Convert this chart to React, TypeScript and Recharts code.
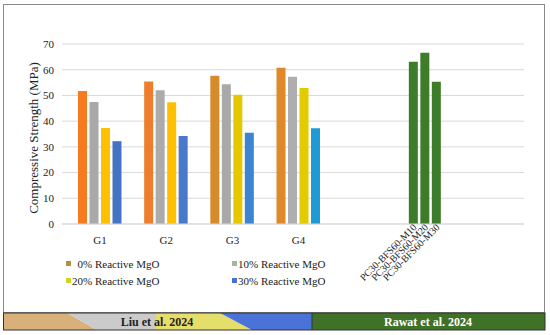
import { BarChart, Bar, XAxis, YAxis, CartesianGrid, Cell, LabelList } from "recharts"

const groups = ["G1", "G2", "G3", "G4"]
const mgo0 = [51.7, 55.4, 57.7, 60.8]
const mgo10 = [47.4, 52.0, 54.3, 57.3]
const mgo20 = [37.3, 47.3, 50.3, 52.9]
const mgo30 = [32.2, 34.2, 35.5, 37.2]
const seriesNames = ["0% Reactive MgO", "10% Reactive MgO", "20% Reactive MgO", "30% Reactive MgO"]

const rawatMixes = ["PC30-BFS60-M10", "PC30-BFS60-M20", "PC30-BFS60-M30"]
const rawatValues = [63.1, 66.6, 55.3]

const yTicks = [0, 10, 20, 30, 40, 50, 60, 70]

// bar colours drift a bit from group to group in the original
const groupColors = [
  ["#F47B20", "#A9A9A9", "#FFC000", "#4472C4"],
  ["#EE7E2E", "#ABABAB", "#FFC000", "#4A78CC"],
  ["#D88A2A", "#A9A9A9", "#E6C800", "#3A86D2"],
  ["#E0892A", "#AEAEAE", "#E2CC00", "#1E9AD6"],
]
const legendColors = ["#B0913E", "#9BBBA6", "#CFD32A", "#4A6FD8"]
const rawatColor = "#3D7D2A"
const serif = "'Liberation Serif', 'Times New Roman', serif"

type Row = { name: string; rawat: boolean; s0?: number; s1?: number; s2?: number; s3?: number }

const chartData: Row[] = [
  ...groups.map((g, i) => ({ name: g, rawat: false, s0: mgo0[i], s1: mgo10[i], s2: mgo20[i], s3: mgo30[i] })),
  { name: "gap", rawat: false },
  { name: "Rawat", rawat: true, s0: rawatValues[0], s1: rawatValues[1], s2: rawatValues[2] },
]

const seriesKeys = ["s0", "s1", "s2", "s3"]

// rotated mix names under the green bars
const rawatLabel = (k: number) => (props: any) => {
  if (props.value !== "Rawat" || k >= rawatMixes.length) return null
  const vb = props.viewBox ?? {}
  const x = props.x ?? vb.x
  const y = props.y ?? vb.y
  const w = props.width ?? vb.width
  const h = props.height ?? vb.height
  const px = Number(x) + Number(w) / 2 + 4
  const py = Number(y) + Number(h) + 4
  return (
    <text
      x={px}
      y={py}
      transform={`rotate(-45 ${px} ${py})`}
      textAnchor="end"
      fontSize={10}
      fontFamily={serif}
      fill="#222"
    >
      {rawatMixes[k]}
    </text>
  )
}

const Banner = () => (
  <svg width={550} height={20} style={{ position: "absolute", left: 0, top: 312 }}>
    <polygon points="3,1 67,1 97,18 3,18" fill="#D8B07A" />
    <polygon points="67,1 156,1 156,18 97,18" fill="#CBCBCB" />
    <polygon points="156,1 220,1 252,18 156,18" fill="#E6DE6A" />
    <polygon points="220,1 312,1 312,18 252,18" fill="#4A72D8" />
    <rect x={312} y={1} width={233} height={17} fill="#3F7226" />
    <rect x={3.5} y={1} width={541.5} height={17} fill="none" stroke="#333" strokeWidth={1} />
    <line x1={312} y1={1} x2={312} y2={18} stroke="#333" strokeWidth={1} />
    <text x={157} y={14} textAnchor="middle" fontSize={12} fontWeight="bold" fontFamily={serif} fill="#222">
      Liu et al. 2024
    </text>
    <text x={428} y={14} textAnchor="middle" fontSize={12} fontWeight="bold" fontFamily={serif} fill="#fff">
      Rawat et al. 2024
    </text>
  </svg>
)

const LegendBox = () => (
  <div
    style={{
      position: "absolute",
      left: 66,
      top: 255,
      display: "grid",
      gridTemplateColumns: "166px 120px",
      gridTemplateRows: "17px 17px",
      fontFamily: serif,
      fontSize: 11,
      color: "#222",
    }}
  >
    {[0, 2, 1, 3].map((k, pos) => (
      <div
        key={k}
        style={{
          display: "flex",
          alignItems: "center",
          gridColumn: pos < 2 ? 1 : 2,
          gridRow: (pos % 2) + 1,
          whiteSpace: "nowrap",
        }}
      >
        <span style={{ width: 5, height: 5, background: legendColors[k], marginRight: 1, display: "inline-block" }} />
        <span style={{ paddingLeft: seriesNames[k].indexOf("%") === 1 ? "0.5em" : 0 }}>{seriesNames[k]}</span>
      </div>
    ))}
  </div>
)

const App = () => {
  return (
    <div style={{ position: "absolute", left: 0, top: 0, width: 550, height: 335, background: "#fff" }}>
      <div
        style={{
          position: "absolute",
          left: 3,
          top: 4,
          width: 542,
          height: 309,
          border: "1.5px solid #8a8a8a",
          boxSizing: "border-box",
        }}
      />
      <BarChart
        width={550}
        height={313}
        data={chartData}
        margin={{ top: 44, right: 26, bottom: 59, left: 32 }}
        barSize={9}
        barGap={2.5}
      >
        <CartesianGrid vertical={false} stroke="#D9D9D9" />
        <XAxis
          dataKey="name"
          height={30}
          padding={{ left: 5, right: 60 }}
          tickLine={false}
          axisLine={{ stroke: "#D9D9D9" }}
          tickMargin={6}
          interval={0}
          tickFormatter={(v) => (groups.includes(v) ? v : "")}
          tick={{ fill: "#222", fontSize: 11, fontFamily: serif }}
        />
        <YAxis
          width={30}
          domain={[0, 70]}
          ticks={yTicks}
          axisLine={false}
          tickLine={false}
          tick={{ fill: "#222", fontSize: 11, fontFamily: serif }}
          label={{
            value: "Compressive Strength (MPa)",
            content: (p: any) => (
              <text
                transform="translate(33,138) rotate(-90)"
                textAnchor="middle"
                dominantBaseline="central"
                fontSize={13}
                fontFamily={serif}
                fill="#222"
              >
                {p.value}
              </text>
            ),
          }}
        />
        {seriesKeys.map((key, k) => (
          <Bar key={key} dataKey={key} name={seriesNames[k]} isAnimationActive={false}>
            {chartData.map((row, i) => (
              <Cell key={i} fill={row.rawat ? rawatColor : groupColors[i]?.[k] ?? "#999"} />
            ))}
            {k < rawatMixes.length && <LabelList dataKey="name" content={rawatLabel(k)} />}
          </Bar>
        ))}
      </BarChart>
      <LegendBox />
      <Banner />
    </div>
  )
}

export default App
